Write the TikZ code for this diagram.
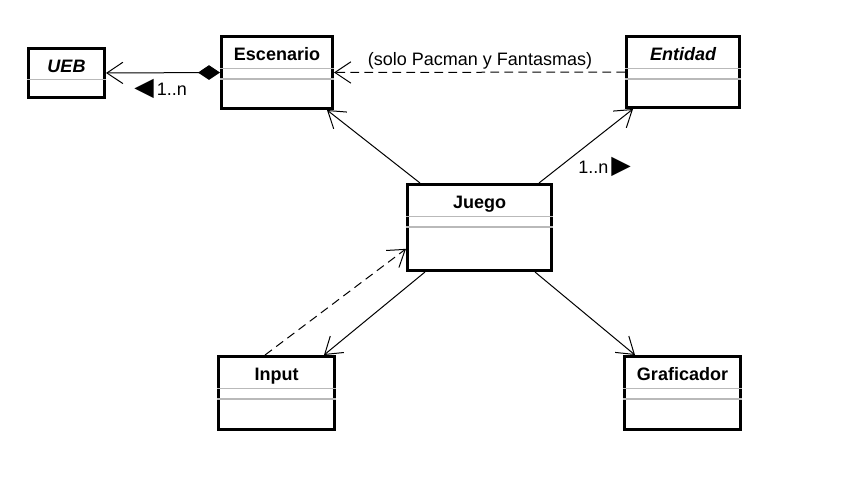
\documentclass[tikz,border=0pt]{standalone}
\usepackage{fontspec}
\setmainfont{Liberation Sans}
\newfontfamily\symfont{DejaVu Sans}
\usetikzlibrary{arrows.meta}

\begin{document}
\begin{tikzpicture}[x=0.75pt,y=-0.75pt,
  >={Straight Barb[length=12pt,width=16pt,line width=0.75pt]},
  classbox/.style={draw,line width=2.25pt,fill=white,inner sep=0pt},
  classname/.style={font=\fontsize{13.5}{15}\selectfont\bfseries,anchor=base,inner sep=0pt},
  sepline/.style={gray!55,line width=1.1pt},
  assoc/.style={line width=0.75pt,->},
  dep/.style={assoc,dash pattern=on 6.5pt off 4pt},
  lbl/.style={font=\fontsize{13.5}{15}\selectfont,inner sep=0pt}]
\useasboundingbox (0,0) rectangle (860,486);
\node[classbox,minimum width=57pt,minimum height=36.75pt] (ueb) at (66.5,73) {};
\node[classbox,minimum width=83.25pt,minimum height=54pt] (esc) at (277,72.5) {};
\node[classbox,minimum width=84.75pt,minimum height=53.25pt] (ent) at (683,72) {};
\node[classbox,minimum width=108pt,minimum height=64.5pt] (jue) at (479.5,227.5) {};
\node[classbox,minimum width=87pt,minimum height=54.75pt] (inp) at (276.5,393) {};
\node[classbox,minimum width=87pt,minimum height=54.75pt] (gra) at (682.5,393) {};
\node[classname] (uebname) at ([yshift=-19pt]ueb.north) {\itshape UEB};
\node[classname] (escname) at ([yshift=-19pt]esc.north) {Escenario};
\node[classname] (entname) at ([yshift=-19pt]ent.north) {\itshape Entidad};
\node[classname] (juename) at ([yshift=-19pt]jue.north) {Juego};
\node[classname] (inpname) at ([yshift=-19pt]inp.north) {Input};
\node[classname] (graname) at ([yshift=-19pt]gra.north) {Graficador};
\draw[sepline] ([yshift=-24.5pt]ueb.north west) -- ([yshift=-24.5pt]ueb.north east);
\foreach \b in {esc,ent,jue,inp,gra}
  \draw[sepline] ([yshift=-25pt]\b.north west) -- ([yshift=-25pt]\b.north east)
                 ([yshift=-33pt]\b.north west) -- ([yshift=-33pt]\b.north east);
\draw[assoc,{Diamond[length=16.5pt,width=11pt]}->] (esc.west) -- (ueb.east);
\draw[dep] (ent.west) -- (esc.east);
\draw[assoc] ([xshift=10.5pt]jue.north west) -- ([xshift=-5.25pt]esc.south east);
\draw[assoc] ([xshift=-10.5pt]jue.north east) -- ([xshift=6pt]ent.south west);
\draw[assoc] ([xshift=14.25pt]jue.south west) -- ([xshift=-9pt]inp.north east);
\draw[assoc] ([xshift=-13.5pt]jue.south east) -- ([xshift=9pt]gra.north west);
\draw[dep] ([xshift=-8.6pt]inp.north) -- ([yshift=-16pt]jue.west);
\node[lbl,anchor=base] (solo) at (480,65) {(solo Pacman y Fantasmas)};
\node[lbl,anchor=base west] (multesc) at (134,95) {{\symfont\fontsize{19}{19}\selectfont ◀}\,1..n};
\node[lbl,anchor=base west] (multent) at (578,173) {1..n\,{\symfont\fontsize{19}{19}\selectfont ▶}};
\end{tikzpicture}
\end{document}
